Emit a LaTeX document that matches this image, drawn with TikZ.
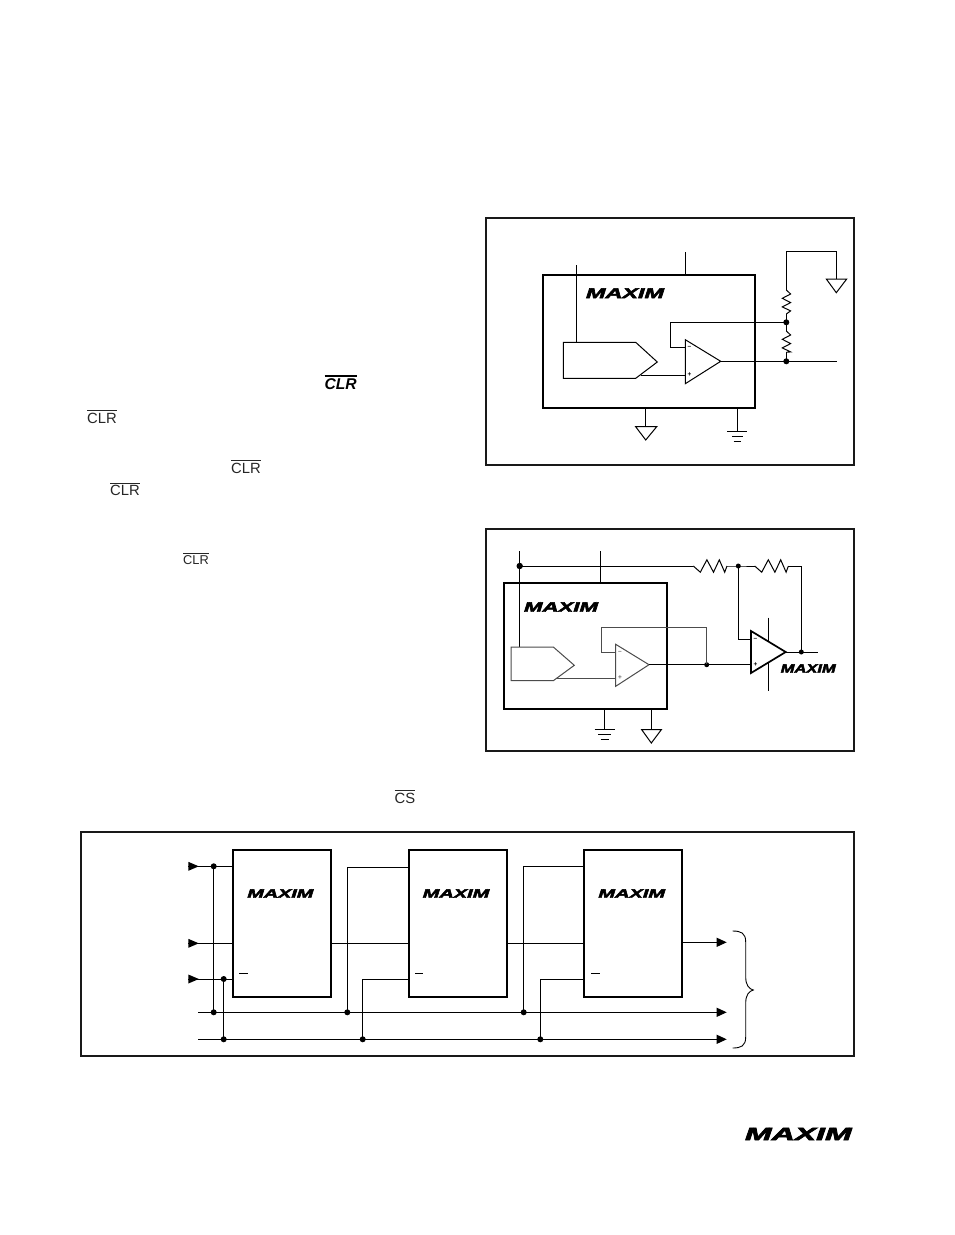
\documentclass[tikz,border=0pt]{standalone}
\usepackage{fontspec}
\setmainfont{Liberation Sans}
\usetikzlibrary{arrows.meta,calc}
\font\logofont="Liberation Sans/BI:embolden=3" at 20pt
\newcommand\ovl[1]{\leavevmode\vbox{\hrule height .8pt \kern 1.7pt\hbox{#1}}}
\newcommand\ovlb[1]{\leavevmode\vbox{\hrule height 1.2pt \kern 2pt\hbox{#1}}}
\tikzset{
  wire/.style={line width=1pt,black},
  frame/.style={draw=black!90,line width=2pt,fill=none},
  chip/.style={draw=black,line width=2.4pt,fill=none},
  part/.style={wire,line join=miter},
  thinpart/.style={line width=1pt,black!70},
  bigamp/.style={line width=1.7pt,black},
  gndtri/.style={wire},
  dot/.style={circle,fill=black,inner sep=0pt,minimum size=6pt},
  sdot/.style={circle,fill=black,inner sep=0pt,minimum size=5pt},
  overtext/.style={inner sep=0pt,anchor=base west,font=\fontsize{14.8}{16}\selectfont,text=black!85},
  sign/.style={inner sep=0pt,font=\fontsize{6.5}{6.5}\selectfont\bfseries},
  arr/.style={wire,-{Triangle[length=10pt,width=9pt]}},
}
\newcommand\logo[4]{\node[inner sep=0pt] (#1) at (#2) {\resizebox{#3pt}{#4pt}{\logofont MAXIM}};}
\newcommand\resv[2]{\draw[wire,line join=miter] (#1) -- ++(4.3,4) -- ++(-8.3,4.3) -- ++(8.3,4.3) -- ++(-8.3,4.3) -- ++(8.3,4) -- (#2);}
\newcommand\resh[2]{\draw[wire,line join=miter] (#1) -- ++(7,6.2) -- ++(6.6,-12.4) -- ++(6.6,12.4) -- ++(5.8,-12.4) -- ++(5.4,12.4) -- (#2);}
\begin{document}
\begin{tikzpicture}[x=1pt,y=-1pt]
\useasboundingbox (0,0) rectangle (954,1235);
\fill[white] (0,0) rectangle (954,1235);
% ---------- left column text fragments
\node[overtext,font=\fontsize{15.6}{16}\selectfont\bfseries\itshape,text=black] (t0) at (324.5,389.5) {\ovlb{CLR}};
\node[overtext] (t1) at (87,423.2) {\ovl{CLR}};
\node[overtext] (t2) at (231,473.2) {\ovl{CLR}};
\node[overtext] (t3) at (110,495.8) {\ovl{CLR}};
\node[overtext,font=\fontsize{12.8}{14}\selectfont] (t4) at (183,564.4) {\ovl{CLR}};
\node[overtext] (t5) at (394.5,803) {\ovl{CS}};
% ---------- frames
\node[frame,minimum width=368pt,minimum height=247pt,inner sep=0pt] (f1) at (669.5,341) {};
\node[frame,minimum width=368pt,minimum height=222pt,inner sep=0pt] (f2) at (669.5,639.5) {};
\node[frame,minimum width=773pt,minimum height=224pt,inner sep=0pt,line width=1.4pt] (f3) at (467.5,944) {};
% ---------- figure 1
\node[chip,minimum width=211.7pt,minimum height=133pt,inner sep=0pt] (c1) at (649,341.5) {};
\logo{l1}{625,293.2}{78}{9.7}
\coordinate (v1t) at (685.3,252); \coordinate (v1b) at (685.3,275);
\draw[wire] (v1t) -- (v1b);
\coordinate (r1t) at (576,265); \coordinate (r1b) at (576,342.3);
\draw[wire] (r1t) -- (r1b);
\draw[part] (563.3,342.3) coordinate (d1a) -- (635.7,342.3) -- (657.3,362) -- (635.7,378.3) coordinate (d1t) -- (563.3,378.3) -- cycle;
\draw[part] (685.3,339.7) coordinate (o1a) -- (720.7,361.3) coordinate (o1o) -- (685.3,383.7) coordinate (o1b) -- cycle;
\node[sign] (m1) at (689.5,347.7) {--};
\node[sign] (p1) at (689.5,375) {+};
\coordinate (o1p) at (685.3,375); \coordinate (d1o) at (640.7,375);
\draw[wire] (d1o) -- (o1p);
\coordinate (o1m) at (685.3,347.7);
\node[dot] (j1a) at (786.3,322.3) {};
\node[dot] (j1b) at (786.3,361.3) {};
\draw[wire] (o1m) -- (670,347.7) -- (670,322.3) -- (j1a.center);
\coordinate (o1e) at (837.3,361.3);
\draw[wire] (o1o) -- (o1e);
\coordinate (r1a) at (786.3,290); \coordinate (r1c) at (786.3,314);
\coordinate (r2a) at (786.3,331); \coordinate (r2c) at (786.3,352.3);
\coordinate (g1in) at (836.3,279);
\draw[wire] (r1a) -- (786.3,251) -- (836.3,251) -- (g1in);
\resv{r1a}{r1c}
\draw[wire] (r1c) -- (j1a.center) -- (r2a);
\resv{r2a}{r2c}
\draw[wire] (r2c) -- (j1b.center);
\draw[gndtri] (826.3,279) -- (846.7,279) -- (836.3,292.7) -- cycle;
\coordinate (g1a) at (645.7,408); \coordinate (g1b) at (645.7,426.7);
\draw[wire] (g1a) -- (g1b);
\draw[gndtri] (635.7,426.7) -- (656.7,426.7) -- (645.7,440) -- cycle;
\coordinate (g2a) at (737.3,408); \coordinate (g2b) at (737.3,431.7);
\draw[wire] (g2a) -- (g2b);
\draw[wire] (727.3,431.7) -- (747.3,431.7) (732,436.7) -- (742.6,436.7) (733.5,441.7) -- (741.2,441.7);
% ---------- figure 2
\node[chip,minimum width=163.3pt,minimum height=126pt,inner sep=0pt] (c2) at (585.6,646) {};
\logo{l2}{561,607}{74}{9.4}
\logo{l3}{808.2,668.5}{55}{8.4}
\node[sdot,minimum size=6.4pt] (j2a) at (519.7,566) {};
\node[sdot] (j2b) at (738.3,566) {};
\node[sdot] (j2c) at (801.3,652) {};
\node[sdot] (j2d) at (706.7,664.7) {};
\coordinate (l2t) at (519.7,551); \coordinate (l2b) at (519.7,647);
\draw[wire] (l2t) -- (l2b);
\coordinate (v2t) at (600.3,551); \coordinate (v2b) at (600.3,583);
\draw[wire] (v2t) -- (v2b);
\coordinate (r3a) at (693.3,566); \coordinate (r3b) at (727,566);
\coordinate (r4a) at (754.7,566); \coordinate (r4b) at (788.4,566);
\draw[wire] (j2a.center) -- (r3a);
\resh{r3a}{r3b}
\draw[wire] (r3b) -- (j2b.center) -- (r4a);
\resh{r4a}{r4b}
\draw[wire] (r4b) -- (801.3,566) -- (j2c.center);
\draw[thinpart] (511,647) -- (553.3,647) -- (574.3,665.3) -- (553.3,680.7) -- (511,680.7) -- cycle;
\coordinate (d2o) at (557.3,678); \coordinate (o2p) at (615.7,678);
\draw[thinpart] (d2o) -- (o2p);
\draw[thinpart] (615.7,644.3) -- (649,664.7) coordinate (o2o) -- (615.7,686.3) -- cycle;
\node[sign,text=black!60] (m2) at (620,652) {--};
\node[sign,text=black!60] (p2) at (620,678) {+};
\coordinate (o2m) at (615.7,652);
\draw[thinpart] (o2m) -- (601.7,652) -- (601.7,627.3) -- (706.7,627.3) -- (j2d.center);
\coordinate (b2p) at (751.3,664.7);
\draw[wire] (o2o) -- (j2d.center) -- (b2p);
\draw[bigamp] (751,631) -- (785.7,652) coordinate (b2o) -- (751,673) -- cycle;
\node[sign] (m3) at (755.5,639) {--};
\node[sign] (p3) at (755.5,664.7) {+};
\coordinate (b2m) at (751,639);
\draw[wire] (j2b.center) -- (738.3,639) -- (b2m);
\coordinate (b2e) at (818,652);
\draw[wire] (b2o) -- (b2e);
\coordinate (s2a) at (768.3,617.7); \coordinate (s2b) at (768.3,641.5);
\coordinate (s2c) at (768.3,662.5); \coordinate (s2d) at (768.3,690.7);
\draw[wire] (s2a) -- (s2b) (s2c) -- (s2d);
\coordinate (g3a) at (604.3,709); \coordinate (g3b) at (604.3,729.7);
\draw[wire] (g3a) -- (g3b);
\draw[wire] (594.7,729.7) -- (614.7,729.7) (598,734.3) -- (610.7,734.3) (600.7,739.3) -- (608.7,739.3);
\coordinate (g4a) at (651.3,709); \coordinate (g4b) at (651.3,729.7);
\draw[wire] (g4a) -- (g4b);
\draw[gndtri] (641.7,729.7) -- (661.3,729.7) -- (651.3,743) -- cycle;
% ---------- figure 3
\node[chip,minimum width=98pt,minimum height=147pt,inner sep=0pt] (b1) at (282,923.3) {};
\node[chip,minimum width=98pt,minimum height=147pt,inner sep=0pt] (b2) at (457.9,923.3) {};
\node[chip,minimum width=98pt,minimum height=147pt,inner sep=0pt] (b3) at (633,923.3) {};
\logo{l4}{280.3,893.5}{66}{8.4}
\logo{l5}{456,893.5}{66.6}{8.4}
\logo{l6}{631.7,893.5}{66.7}{8.4}
\draw[wire] (b1.west |- 0,973.3) ++(7.5,0) coordinate (bar1a) -- ++(9,0) coordinate (bar1b);
\draw[wire] (b2.west |- 0,973.3) ++(7.5,0) coordinate (bar2a) -- ++(8,0) coordinate (bar2b);
\draw[wire] (b3.west |- 0,973.3) ++(8.3,0) coordinate (bar3a) -- ++(9,0) coordinate (bar3b);
% inputs
\coordinate (i1) at (188.3,866.3); \coordinate (i2) at (188.3,943.3); \coordinate (i3) at (188.3,979);
\node[dot] (a1) at (213.7,866.3) {};
\node[dot] (a2) at (223.7,979) {};
\coordinate (e1) at (198,1012.3); \coordinate (e2) at (198,1039.3);
\coordinate (x1) at (726.7,1012.3); \coordinate (x2) at (726.7,1039.3);
\node[dot] (k1) at (213.7,1012.3) {};
\node[dot] (k2) at (347.3,1012.3) {};
\node[dot] (k3) at (523.7,1012.3) {};
\node[dot] (n1) at (223.7,1039.3) {};
\node[dot] (n2) at (362.7,1039.3) {};
\node[dot] (n3) at (540.3,1039.3) {};
\draw[wire] (i1) -- (b1.west |- i1);
\draw[wire] (i2) -- (b1.west |- i2);
\draw[wire] (i3) -- (b1.west |- i3);
\foreach \p in {i1,i2,i3} \fill (\p) ++(0,-4.5) -- ++(10.5,4.5) -- ++(-10.5,4.5) -- cycle;
\draw[wire] (a1.center) -- (k1.center);
\draw[wire] (a2.center) -- (n1.center);
\draw[arr] (e1) -- (x1);
\draw[arr] (e2) -- (x2);
\draw[wire] (k2.center) -- (347.3,867.3) -- (b2.west |- 0,867.3);
\draw[wire] (n2.center) -- (362.7,979.7) -- (b2.west |- 0,979.7);
\draw[wire] (k3.center) -- (523.7,866.3) -- (b3.west |- 0,866.3);
\draw[wire] (n3.center) -- (540.3,979.7) -- (b3.west |- 0,979.7);
\draw[wire] (b1.east |- 0,943.3) -- (b2.west |- 0,943.3);
\draw[wire] (b2.east |- 0,943.3) -- (b3.west |- 0,943.3);
\coordinate (x0) at (726.7,942.3);
\draw[arr] (b3.east |- x0) -- (x0);
\draw[line width=.9pt] (732.7,931) .. controls (741,931) and (745.7,933) .. (745.7,942)
  -- (745.7,977) .. controls (745.7,985) and (749,989) .. (753.3,990)
  .. controls (749,991) and (745.7,995) .. (745.7,1003)
  -- (745.7,1037) .. controls (745.7,1046) and (741,1048) .. (732.7,1048);
% bottom logo
\logo{l7}{798.3,1134}{106.7}{12.4}
\end{tikzpicture}
\end{document}
